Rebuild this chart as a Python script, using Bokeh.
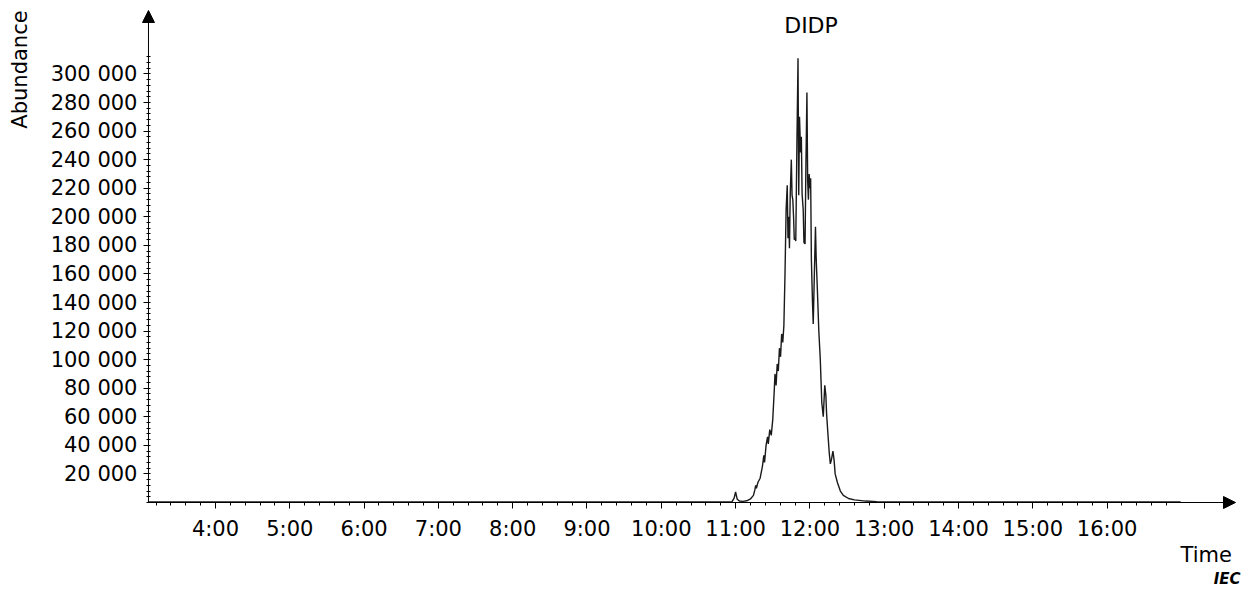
import numpy as np
from bokeh.plotting import figure
from bokeh.models import (Range1d, FixedTicker, Arrow, NormalHead, Label, LinearAxis)
from bokeh.embed import file_html
from bokeh.resources import INLINE

# ---- data ----
time_min = [3.10, 4.0, 5.0, 6.0, 7.0, 8.0, 9.0, 10.0, 10.90, 10.95, 10.98, 11.00, 11.02,
            11.05, 11.10, 11.15, 11.20, 11.24, 11.26, 11.27, 11.28, 11.30, 11.33, 11.36,
            11.38, 11.39, 11.41, 11.43, 11.44, 11.46, 11.48, 11.50, 11.52, 11.53, 11.545,
            11.56, 11.575, 11.59, 11.605, 11.62, 11.635, 11.65, 11.665, 11.68, 11.695,
            11.705, 11.715, 11.725, 11.735, 11.75, 11.76, 11.77, 11.78, 11.79, 11.80,
            11.81, 11.825, 11.84, 11.85, 11.86, 11.875, 11.885, 11.895, 11.91, 11.92,
            11.935, 11.945, 11.96, 11.97, 11.98, 11.99, 12.00, 12.01, 12.02, 12.035,
            12.045, 12.06, 12.075, 12.085, 12.10, 12.12, 12.14, 12.16, 12.18, 12.20,
            12.215, 12.225, 12.24, 12.26, 12.275, 12.29, 12.31, 12.325, 12.34, 12.37,
            12.41, 12.45, 12.52, 12.60, 12.75, 12.90, 13.10, 14.0, 15.0, 16.0, 16.99]
abundance = [300, 300, 300, 300, 300, 300, 300, 300, 300, 400, 3000, 7500, 2500,
             1000, 800, 1200, 2500, 5000, 9000, 12000, 10000, 14000, 17000, 25000,
             33000, 28000, 40000, 46000, 41000, 51000, 47000, 58000, 78000, 90000, 82000,
             97000, 92000, 108000, 102000, 118000, 112000, 124000, 160000, 205000, 222000,
             185000, 200000, 178000, 215000, 240000, 215000, 212000, 200000, 184000, 185000,
             183000, 250000, 311000, 215000, 270000, 245000, 256000, 216000, 205000, 182000,
             181000, 230000, 287000, 225000, 212000, 230000, 220000, 227000, 170000, 140000,
             125000, 160000, 193000, 170000, 150000, 120000, 100000, 70000, 60000, 82000,
             75000, 62000, 50000, 35000, 27000, 30000, 36000, 30000, 20000, 14000,
             8000, 5000, 2800, 1800, 1000, 600, 300, 300, 300, 300, 300]

x_major = [4, 5, 6, 7, 8, 9, 10, 11, 12, 13, 14, 15, 16]
x_labels = ["4:00", "5:00", "6:00", "7:00", "8:00", "9:00", "10:00", "11:00",
            "12:00", "13:00", "14:00", "15:00", "16:00"]
y_major = [20000, 40000, 60000, 80000, 100000, 120000, 140000, 160000, 180000,
           200000, 220000, 240000, 260000, 280000, 300000]
y_labels = ["20 000", "40 000", "60 000", "80 000", "100 000", "120 000", "140 000",
            "160 000", "180 000", "200 000", "220 000", "240 000", "260 000",
            "280 000", "300 000"]

FONT = "DejaVu Sans"
W, H = 1252, 590
T0 = 3.098  # start of time axis

p = figure(width=W, height=H, output_backend="svg", toolbar_location=None,
           x_range=Range1d(1.1063, 17.957), y_range=Range1d(-61600, 351400),
           x_axis_location=None, y_axis_location=None,
           min_border_left=0, min_border_right=0, min_border_top=0,
           min_border_bottom=0)
p.outline_line_color = None
p.xgrid.visible = False
p.ygrid.visible = False
p.background_fill_color = "white"
p.border_fill_color = "white"

p.line(time_min, abundance, line_color="#1a1a1a", line_width=1.4)

# axes (placed at the data origin)
xa = LinearAxis(fixed_location=0)
xa.ticker = FixedTicker(ticks=x_major,
                        minor_ticks=[round(3.2 + 0.2 * i, 2) for i in range(69)])
xa.major_label_overrides = {t: l for t, l in zip(x_major, x_labels)}
xa.axis_line_color = None
xa.major_tick_in = 0
xa.major_tick_out = 6
xa.minor_tick_in = 0
xa.minor_tick_out = 3
xa.major_tick_line_color = "black"
xa.minor_tick_line_color = "black"
xa.major_label_text_font = FONT
xa.major_label_text_font_size = "21px"
xa.major_label_text_color = "black"
xa.major_label_standoff = 8
p.add_layout(xa, "below")

ya = LinearAxis(fixed_location=T0)
ya.ticker = FixedTicker(ticks=y_major, minor_ticks=[4000 * i for i in range(79)])
ya.major_label_overrides = {t: l for t, l in zip(y_major, y_labels)}
ya.axis_line_color = None
ya.major_tick_in = 0
ya.major_tick_out = 5
ya.minor_tick_in = 2
ya.minor_tick_out = 2
ya.major_tick_line_color = "black"
ya.minor_tick_line_color = "black"
ya.major_label_text_font = FONT
ya.major_label_text_font_size = "21px"
ya.major_label_text_color = "black"
ya.major_label_standoff = 6
p.add_layout(ya, "left")

# axis arrows
p.add_layout(Arrow(end=NormalHead(size=12, fill_color="black", line_color="black"),
                   x_start=T0, y_start=0, x_end=17.728, y_end=0,
                   line_color="black", line_width=1))
p.add_layout(Arrow(end=NormalHead(size=12, fill_color="black", line_color="black"),
                   x_start=T0, y_start=0, x_end=T0, y_end=344400,
                   line_color="black", line_width=1))

# texts
p.add_layout(Label(x=1.375, y=303100, text="Abundance", angle=np.pi / 2,
                   text_align="center", text_baseline="alphabetic",
                   text_font=FONT, text_font_size="21px", text_color="black"))
p.add_layout(Label(x=12.015, y=333900, text="DIDP", text_align="center",
                   text_baseline="alphabetic", text_font=FONT,
                   text_font_size="22px", text_color="black"))
p.add_layout(Label(x=16.988, y=-36400, text="Time", text_align="left",
                   text_baseline="alphabetic", text_font=FONT,
                   text_font_size="21px", text_color="black"))
p.add_layout(Label(x=17.795, y=-53200, text="IEC", text_align="right",
                   text_baseline="alphabetic", text_font=FONT,
                   text_font_size="15px", text_font_style="bold italic",
                   text_color="black"))

open("out.html", "w").write(file_html(p, INLINE))
